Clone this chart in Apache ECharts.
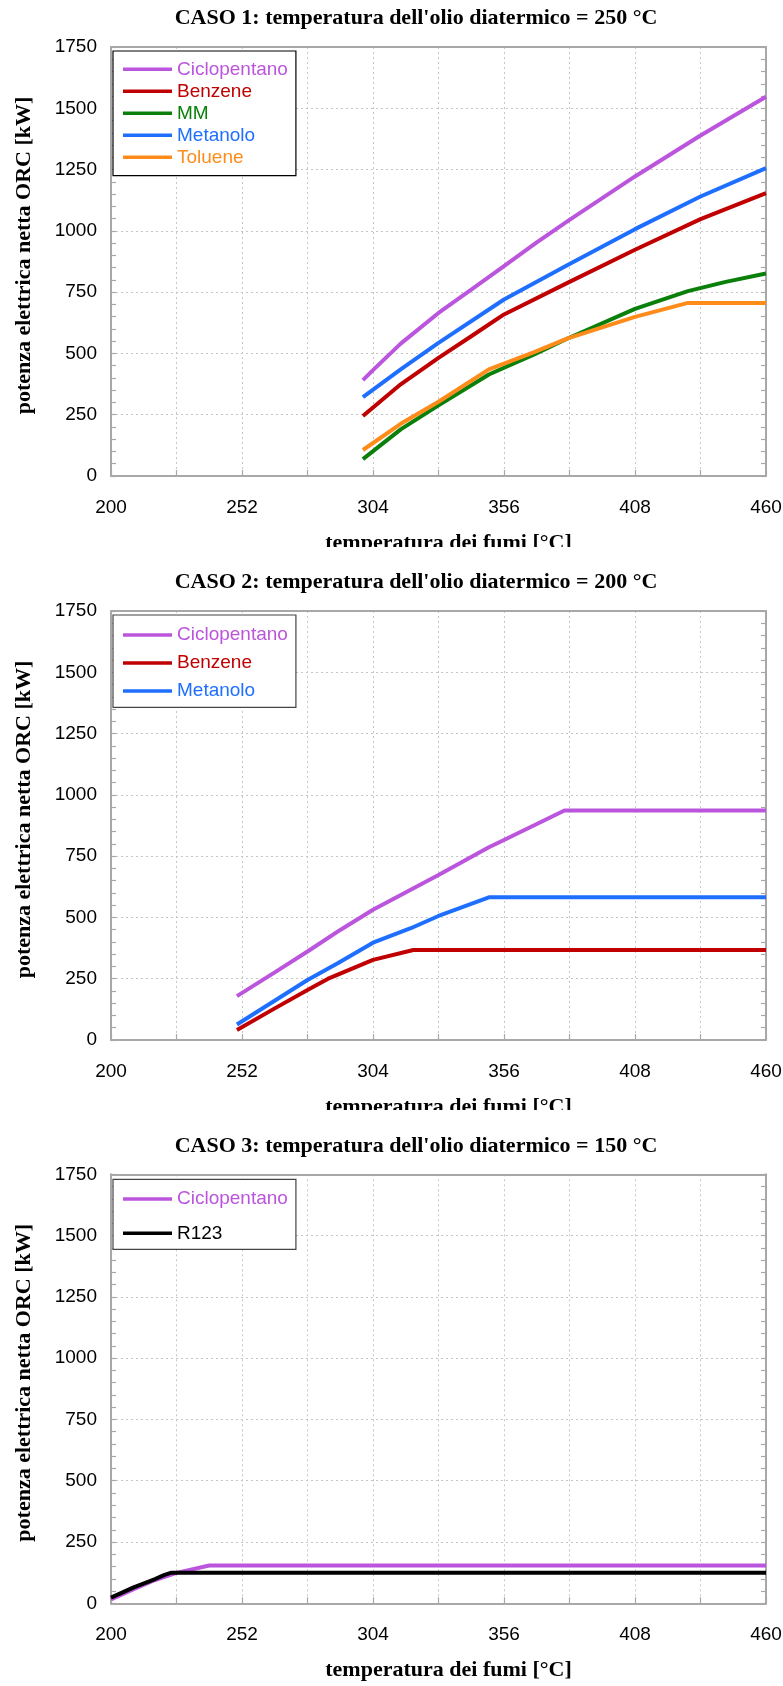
<!DOCTYPE html>
<html>
<head>
<meta charset="utf-8">
<script src="https://cdn.jsdelivr.net/npm/echarts@6/dist/echarts.min.js"></script>
<style>
html, body { margin: 0; padding: 0; background: #ffffff; }
.c { position: absolute; left: 0; width: 783px; }
</style>
</head>
<body>
<div id="c1" class="c" style="top:0px;height:547px"></div>
<div id="c2" class="c" style="top:547px;height:563px"></div>
<div id="c3" class="c" style="top:1110px;height:576px"></div>
<script>
// ---------- tick labels ----------
const xTickLabels = [200, 252, 304, 356, 408, 460];
const yTickLabels = [0, 250, 500, 750, 1000, 1250, 1500, 1750];

// ---------- titles ----------
const titles = [
  "CASO 1: temperatura dell'olio diatermico = 250 °C",
  "CASO 2: temperatura dell'olio diatermico = 200 °C",
  "CASO 3: temperatura dell'olio diatermico = 150 °C"
];
const xName = 'temperatura dei fumi [°C]';
const yName = 'potenza elettrica netta ORC [kW]';

// ---------- CASO 1 ----------
const c1Names = ['Ciclopentano', 'Benzene', 'MM', 'Metanolo', 'Toluene'];
const c1CicloX = [300, 304, 315, 330, 343, 356, 369, 382, 408, 434, 460];
const c1CicloY = [391, 432, 540, 665, 760, 856, 953, 1045, 1222, 1389, 1547];
const c1BenzX = [300, 315, 330, 343, 356, 382, 408, 434, 460];
const c1BenzY = [245, 374, 482, 570, 659, 792, 923, 1048, 1154];
const c1MMX = [300, 315, 330, 350, 368, 381, 408, 429, 444, 460];
const c1MMY = [69, 190, 288, 414, 496, 560, 682, 754, 792, 826];
const c1MetaX = [300, 315, 330, 356, 382, 408, 434, 460];
const c1MetaY = [322, 435, 543, 720, 865, 1007, 1140, 1256];
const c1TolX = [300, 315, 330, 350, 368, 381, 408, 429, 460];
const c1TolY = [106, 213, 303, 435, 505, 560, 649, 706, 706];

// ---------- CASO 2 ----------
const c2Names = ['Ciclopentano', 'Benzene', 'Metanolo'];
const c2CicloX = [250, 265, 278, 291, 304, 330, 350, 356, 380, 460];
const c2CicloY = [179, 276, 361, 449, 531, 673, 786, 816, 936, 936];
const c2BenzX = [250, 265, 278, 286, 304, 320, 460];
const c2BenzY = [41, 129, 204, 249, 327, 367, 367];
const c2MetaX = [250, 278, 290, 304, 319, 330, 350, 460];
const c2MetaY = [63, 245, 313, 397, 456, 506, 582, 582];

// ---------- CASO 3 ----------
const c3Names = ['Ciclopentano', 'R123'];
const c3CicloX = [200, 209, 217.5, 226, 239, 460];
const c3CicloY = [16, 58, 95, 124, 154, 154];
const c3R123X = [200, 209, 217.5, 221, 224, 460];
const c3R123Y = [23, 65, 99, 115, 125, 125];

// ---------- styles ----------
const COLORS = {
  Ciclopentano: '#BB55DD',
  Benzene: '#C00000',
  MM: '#0A800A',
  Metanolo: '#1F6FFF',
  Toluene: '#FF8C1A',
  R123: '#000000'
};
const SERIF = "'Liberation Serif', 'Times New Roman', serif";
const SANS = "'Liberation Sans', Arial, sans-serif";
const AXIS_GREY = '#a8a8a8';
const GRID_GREY = '#c6c6c6';

function pairs(xs, ys) { return xs.map((x, i) => [x, ys[i]]); }

function buildOption(cfg) {
  const series = cfg.series.map(s => ({
    name: s.name,
    type: 'line',
    data: pairs(s.x, s.y),
    symbol: 'none',
    showSymbol: false,
    silent: true,
    color: COLORS[s.name],
    itemStyle: { color: COLORS[s.name] },
    lineStyle: { color: COLORS[s.name], width: 4 },
    emphasis: { disabled: true },
    xAxisIndex: 0,
    yAxisIndex: 0
  }));
  const nameStyle = { fontFamily: SERIF, fontWeight: 'bold', fontSize: 22, color: '#000' };
  return {
    animation: false,
    backgroundColor: '#ffffff',
    title: {
      text: cfg.title,
      left: 416,
      top: cfg.titleY,
      padding: 0,
      textAlign: 'center',
      textVerticalAlign: 'middle',
      textStyle: { fontFamily: SERIF, fontWeight: 'bold', fontSize: 22, color: '#000' }
    },
    grid: { left: 111, top: cfg.gridTop, width: 655, height: 429, containLabel: false, outerBoundsMode: 'none' },
    legend: {
      orient: 'vertical',
      left: 113,
      top: cfg.legendTop,
      padding: cfg.legendPad,
      itemGap: cfg.legendGap,
      itemWidth: 49,
      itemHeight: 3.6,
      icon: 'rect',
      selectedMode: false,
      backgroundColor: '#ffffff',
      borderColor: cfg.legendBorder,
      borderWidth: 1.2,
      borderRadius: 0,
      itemStyle: { borderWidth: 0 },
      textStyle: { fontFamily: SANS, fontSize: 19, lineHeight: 19 },
      data: cfg.series.map(s => ({ name: s.name, textStyle: { color: COLORS[s.name] } }))
    },
    xAxis: [{
      type: 'value', min: 200, max: 460, interval: 26, position: 'bottom',
      name: xName, nameLocation: 'middle', nameGap: 56, nameMoveOverlap: false,
      nameTextStyle: Object.assign({}, nameStyle, { padding: [0, 0, 0, 20] }),
      axisLine: { show: true, onZero: false, lineStyle: { color: AXIS_GREY, width: 2 } },
      axisTick: { show: true, inside: true, length: 6, lineStyle: { color: AXIS_GREY, width: 1.2 } },
      axisLabel: {
        margin: 22, fontFamily: SANS, fontSize: 19, color: '#000',
        formatter: v => (xTickLabels.indexOf(v) >= 0 ? String(v) : '')
      },
      splitLine: { show: true, lineStyle: { color: GRID_GREY, type: [2, 3], width: 1 } }
    }, {
      type: 'value', min: 200, max: 460, interval: 26, position: 'top',
      axisLine: { show: true, onZero: false, lineStyle: { color: AXIS_GREY, width: 2 } },
      axisTick: { show: false }, axisLabel: { show: false }, splitLine: { show: false }
    }],
    yAxis: [{
      type: 'value', min: 0, max: 1750, interval: 250, position: 'left',
      name: yName, nameLocation: 'middle', nameGap: 76, nameRotate: 90, nameMoveOverlap: false,
      nameTextStyle: Object.assign({}, nameStyle, { padding: [0, 0, 0, 12] }),
      axisLine: { show: true, onZero: false, lineStyle: { color: AXIS_GREY, width: 2 } },
      axisTick: { show: true, inside: true, length: 5, lineStyle: { color: AXIS_GREY, width: 1.2 } },
      minorTick: { show: true, splitNumber: 5, length: 5, lineStyle: { color: AXIS_GREY, width: 1.2 } },
      axisLabel: {
        margin: 14, fontFamily: SANS, fontSize: 19, color: '#000',
        formatter: v => (yTickLabels.indexOf(v) >= 0 ? String(v) : '')
      },
      splitLine: { show: true, lineStyle: { color: GRID_GREY, type: [2, 3], width: 1 } }
    }, {
      type: 'value', min: 0, max: 1750, interval: 250, position: 'right',
      axisLine: { show: true, onZero: false, lineStyle: { color: AXIS_GREY, width: 2 } },
      axisTick: { show: true, inside: true, length: 5, lineStyle: { color: AXIS_GREY, width: 1.2 } },
      minorTick: { show: true, splitNumber: 5, length: 5, lineStyle: { color: AXIS_GREY, width: 1.2 } },
      axisLabel: { show: false }, splitLine: { show: false }
    }],
    series: series
  };
}

const configs = [
  {
    el: 'c1', title: titles[0], titleY: 18.5, gridTop: 47,
    legendTop: 51, legendPad: [8.8, 8, 8.8, 10], legendGap: 3, legendBorder: '#000000',
    series: [
      { name: c1Names[0], x: c1CicloX, y: c1CicloY },
      { name: c1Names[1], x: c1BenzX, y: c1BenzY },
      { name: c1Names[2], x: c1MMX, y: c1MMY },
      { name: c1Names[3], x: c1MetaX, y: c1MetaY },
      { name: c1Names[4], x: c1TolX, y: c1TolY }
    ]
  },
  {
    el: 'c2', title: titles[1], titleY: 35.5, gridTop: 64,
    legendTop: 68, legendPad: [10.5, 8, 6.8, 10], legendGap: 9, legendBorder: '#444444',
    series: [
      { name: c2Names[0], x: c2CicloX, y: c2CicloY },
      { name: c2Names[1], x: c2BenzX, y: c2BenzY },
      { name: c2Names[2], x: c2MetaX, y: c2MetaY }
    ]
  },
  {
    el: 'c3', title: titles[2], titleY: 36, gridTop: 64.3,
    legendTop: 69.3, legendPad: [10.2, 8, 6.5, 10], legendGap: 15.3, legendBorder: '#444444',
    series: [
      { name: c3Names[0], x: c3CicloX, y: c3CicloY },
      { name: c3Names[1], x: c3R123X, y: c3R123Y }
    ]
  }
];

configs.forEach(cfg => {
  const chart = echarts.init(document.getElementById(cfg.el), null, { renderer: 'canvas' });
  chart.setOption(buildOption(cfg));
});
</script>
</body>
</html>
